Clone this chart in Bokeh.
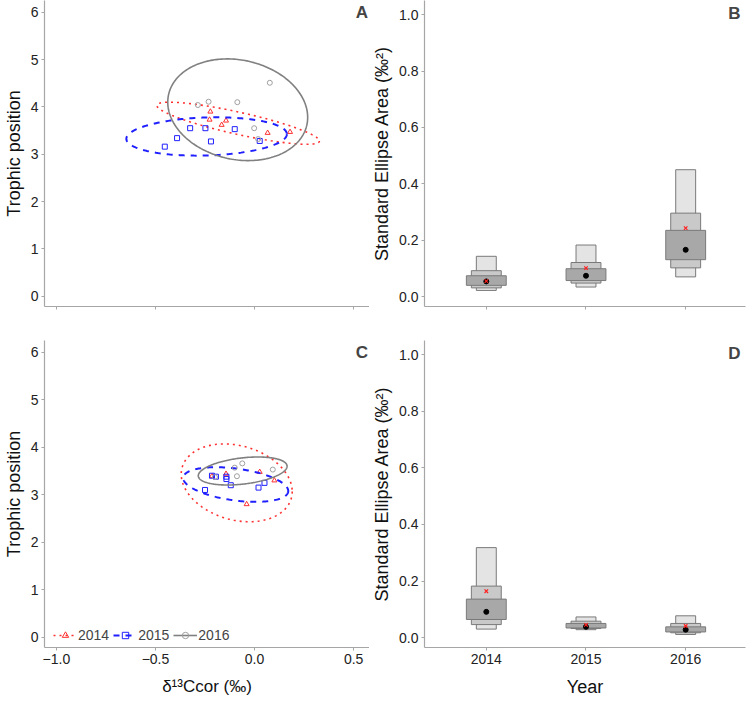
import numpy as np
from bokeh.plotting import figure
from bokeh.layouts import row, column
from bokeh.models import Range1d, FixedTicker, Label, Legend, LegendItem
from bokeh.embed import file_html
from bokeh.resources import INLINE

# ---------------- data ----------------
years = [2014, 2015, 2016]
year_labels = ["2014", "2015", "2016"]

# Panel A points (d13C cor, trophic position)
A14_x = [-0.223, -0.227, -0.166, -0.144, 0.066, 0.179]
A14_y = [3.90, 3.73, 3.62, 3.71, 3.45, 3.47]
A15_x = [-0.325, -0.248, -0.391, -0.453, -0.220, -0.100, 0.026]
A15_y = [3.55, 3.55, 3.34, 3.16, 3.27, 3.53, 3.28]
A16_x = [0.077, -0.232, -0.286, -0.087, -0.002, 0.018]
A16_y = [4.51, 4.11, 4.04, 4.10, 3.55, 3.32]

# Panel C points
C14_x = [-0.144, 0.026, -0.215, 0.100, -0.040]
C14_y = [3.44, 3.48, 3.39, 3.30, 2.80]
C15_x = [-0.215, -0.195, -0.142, -0.142, -0.120, 0.020, 0.050, -0.250]
C15_y = [3.40, 3.38, 3.38, 3.33, 3.20, 3.15, 3.25, 3.10]
C16_x = [-0.100, -0.062, -0.089, 0.092, -0.200]
C16_y = [3.57, 3.66, 3.39, 3.53, 3.37]

# Ellipses: centre x, centre y, half x-extent, half y-extent, phase (deg)
A_ell = {2014: (-0.083, 3.655, 0.410, 0.445, 147.5),
         2015: (-0.242, 3.375, 0.405, 0.405, 83.0),
         2016: (-0.085, 3.940, 0.353, 1.075, 98.6)}
C_ell = {2014: (-0.090, 3.250, 0.280, 0.820, 103.0),
         2015: (-0.095, 3.215, 0.265, 0.365, 112.0),
         2016: (-0.060, 3.500, 0.224, 0.295, 70.0)}

# Panel B: SEA_B credible intervals (95%, 75%, 50%), mode and ML estimate
B_lo95 = [0.022, 0.034, 0.070]
B_hi95 = [0.143, 0.183, 0.450]
B_lo75 = [0.031, 0.048, 0.102]
B_hi75 = [0.092, 0.121, 0.296]
B_lo50 = [0.040, 0.057, 0.131]
B_hi50 = [0.074, 0.099, 0.235]
B_mode = [0.054, 0.074, 0.166]
B_ml = [0.055, 0.101, 0.243]

# Panel D
D_lo95 = [0.030, 0.028, 0.011]
D_hi95 = [0.318, 0.073, 0.077]
D_lo75 = [0.046, 0.032, 0.017]
D_hi75 = [0.182, 0.058, 0.050]
D_lo50 = [0.064, 0.034, 0.020]
D_hi50 = [0.136, 0.050, 0.038]
D_mode = [0.091, 0.038, 0.028]
D_ml = [0.164, 0.045, 0.041]

FONT = "Liberation Sans"
RED, BLUE, GRAY = "#ff3030", "#1f1fff", "#808080"


def style(p):
    p.xgrid.visible = False
    p.ygrid.visible = False
    p.outline_line_color = None
    p.background_fill_color = "white"
    for ax in p.axis:
        ax.axis_line_color = "#a6a6a6"
        ax.axis_line_width = 1.2
        ax.major_tick_line_color = "#a6a6a6"
        ax.minor_tick_line_color = None
        ax.major_tick_out = 3
        ax.major_tick_in = 0
        ax.major_label_text_font = FONT
        ax.major_label_text_font_size = "14px"
        ax.major_label_text_color = "#222222"
        ax.major_label_standoff = 3
        ax.axis_label_text_font = FONT
        ax.axis_label_text_font_size = "18px"
        ax.axis_label_text_font_style = "normal"
        ax.axis_label_text_color = "#111111"
        ax.axis_label_standoff = 4


def ellipse_xy(par):
    cx, cy, hx, hy, ph = par
    t = np.linspace(0, 2 * np.pi, 241)
    return cx + hx * np.cos(t), cy + hy * np.cos(t + np.radians(ph))


def iso_panel(height, bottom, show_xlabels, pts, ells, letter, legend=False):
    p = figure(width=369, height=height, x_range=Range1d(-1.06, 0.58),
               y_range=Range1d(-0.22, 6.25), min_border_left=37,
               min_border_right=0, min_border_top=0, min_border_bottom=bottom,
               output_backend="svg", toolbar_location=None)
    style(p)
    p.xaxis.ticker = FixedTicker(ticks=[-1.0, -0.5, 0.0, 0.5])
    p.yaxis.ticker = FixedTicker(ticks=[0, 1, 2, 3, 4, 5, 6])
    p.yaxis.axis_label = "Trophic position"
    if show_xlabels:
        p.xaxis.major_label_overrides = {-1.0: "\u22121.0", -0.5: "\u22120.5",
                                         0.0: "0.0", 0.5: "0.5"}
        p.xaxis.axis_label = "\u03b4\u00b9\u00b3Ccor (\u2030)"
        p.xaxis.axis_label_standoff = 10
        p.xaxis.axis_label_text_font_size = "17px"
    else:
        p.xaxis.major_label_overrides = {-1.0: "", -0.5: "", 0.0: "", 0.5: ""}
    styles = {2014: (RED, "dotted", 1.6), 2015: (BLUE, "dashed", 2.0),
              2016: (GRAY, "solid", 1.6)}
    markers = {2014: "triangle", 2015: "square", 2016: "circle"}
    items = []
    for yr in years:
        col, dash, lw = styles[yr]
        ex, ey = ellipse_xy(ells[yr])
        lr = p.line(ex, ey, line_color=col, line_dash=dash, line_width=lw)
        xs, ys = pts[yr]
        sr = p.scatter(xs, ys, marker=markers[yr], size=5, fill_color=None,
                       line_color=col if yr != 2016 else "#a0a0a0", line_width=1)
        items.append(LegendItem(label=str(yr), renderers=[lr, sr]))
    if legend:
        lg = Legend(items=items, orientation="horizontal", location=(9, 4),
                    background_fill_alpha=0, border_line_color=None,
                    label_text_font=FONT, label_text_font_size="14px",
                    glyph_width=24, glyph_height=16, label_standoff=1,
                    spacing=4, padding=0, margin=0)
        p.add_layout(lg)
    p.add_layout(Label(x=0.573, y=5.99, text=letter, text_align="right",
                       text_baseline="middle", text_font=FONT,
                       text_font_style="bold", text_font_size="17px"))
    return p


def sea_panel(height, bottom, show_xlabels, lo95, hi95, lo75, hi75, lo50,
              hi50, mode, ml, letter):
    p = figure(width=379, height=height, x_range=Range1d(2013.38, 2016.6),
               y_range=Range1d(-0.035, 1.05), min_border_left=50,
               min_border_right=3, min_border_top=0, min_border_bottom=bottom,
               output_backend="svg", toolbar_location=None)
    style(p)
    p.xaxis.ticker = FixedTicker(ticks=years)
    p.yaxis.ticker = FixedTicker(ticks=[0.0, 0.2, 0.4, 0.6, 0.8, 1.0])
    p.yaxis.major_label_overrides = {0.0: "0.0", 0.2: "0.2", 0.4: "0.4",
                                     0.6: "0.6", 0.8: "0.8", 1.0: "1.0"}
    p.yaxis.axis_label = "Standard Ellipse Area (\u2030\u00b2)"
    if show_xlabels:
        p.xaxis.major_label_overrides = {y: s for y, s in zip(years, year_labels)}
        p.xaxis.axis_label = "Year"
        p.xaxis.axis_label_standoff = 10
    else:
        p.xaxis.major_label_overrides = {y: "" for y in years}
    p.vbar(x=years, width=0.2, bottom=lo95, top=hi95, fill_color="#e4e4e4",
           line_color="#7a7a7a", line_width=1)
    p.vbar(x=years, width=0.3, bottom=lo75, top=hi75, fill_color="#c9c9c9",
           line_color="#7a7a7a", line_width=1)
    p.vbar(x=years, width=0.4, bottom=lo50, top=hi50, fill_color="#a8a8a8",
           line_color="#7a7a7a", line_width=1)
    p.scatter(years, mode, marker="circle", size=5, fill_color="black",
              line_color="black")
    p.scatter(years, ml, marker="x", size=5, line_color="#ff2020",
              line_width=1.2)
    p.add_layout(Label(x=2016.55, y=1.003, text=letter, text_align="right",
                       text_baseline="middle", text_font=FONT,
                       text_font_style="bold", text_font_size="17px"))
    return p


pA = iso_panel(340, 34, False, {2014: (A14_x, A14_y), 2015: (A15_x, A15_y),
                                2016: (A16_x, A16_y)}, A_ell, "A")
pC = iso_panel(367, 60, True, {2014: (C14_x, C14_y), 2015: (C15_x, C15_y),
                               2016: (C16_x, C16_y)}, C_ell, "C", legend=True)
pB = sea_panel(340, 34, False, B_lo95, B_hi95, B_lo75, B_hi75, B_lo50, B_hi50,
               B_mode, B_ml, "B")
pD = sea_panel(367, 60, True, D_lo95, D_hi95, D_lo75, D_hi75, D_lo50, D_hi50,
               D_mode, D_ml, "D")

layout = row(column(pA, pC, spacing=0), column(pB, pD, spacing=0), spacing=0)
open("out.html", "w").write(file_html(layout, INLINE))
